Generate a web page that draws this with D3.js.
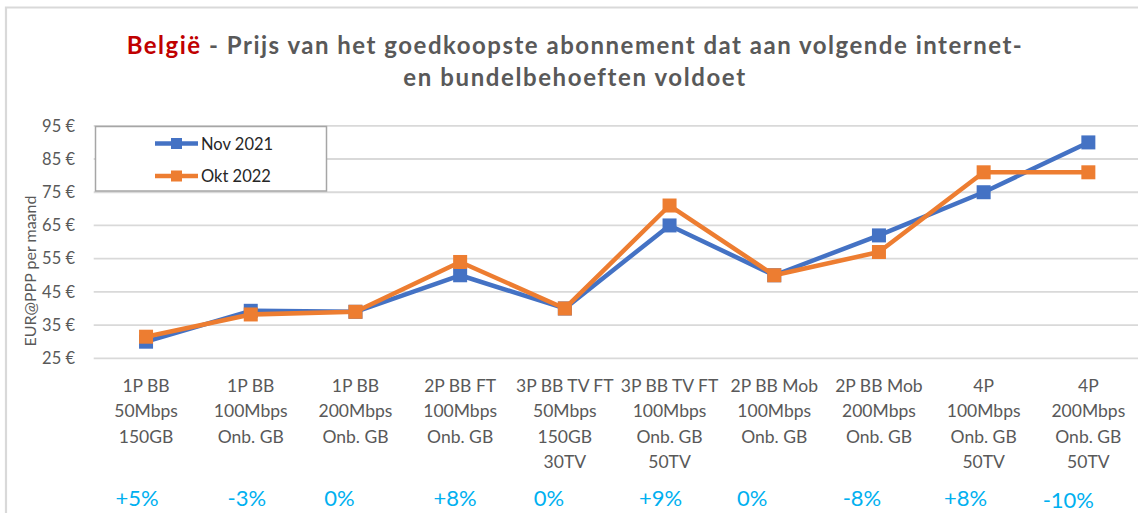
<!DOCTYPE html>
<html>
<head>
<meta charset="utf-8">
<script src="https://cdn.jsdelivr.net/npm/d3@7"></script>
<style>
  html, body { margin: 0; padding: 0; background: #fff; }
  svg { display: block; }
</style>
</head>
<body>
<svg id="chart" width="1138" height="513"></svg>
<script>
// ---------- DATA ----------
const categories = [
  ["1P BB", "50Mbps", "150GB"],
  ["1P BB", "100Mbps", "Onb. GB"],
  ["1P BB", "200Mbps", "Onb. GB"],
  ["2P BB FT", "100Mbps", "Onb. GB"],
  ["3P BB TV FT", "50Mbps", "150GB", "30TV"],
  ["3P BB TV FT", "100Mbps", "Onb. GB", "50TV"],
  ["2P BB Mob", "100Mbps", "Onb. GB"],
  ["2P BB Mob", "200Mbps", "Onb. GB"],
  ["4P", "100Mbps", "Onb. GB", "50TV"],
  ["4P", "200Mbps", "Onb. GB", "50TV"]
];
const seriesNames = ["Nov 2021", "Okt 2022"];
const nov2021 = [30, 39.3, 39, 50, 40, 65, 50, 62, 75, 90];
const okt2022 = [31.5, 38.2, 39, 54, 40, 71, 50, 57, 81, 81];
const changeLabels = ["+5%", "-3%", "0%", "+8%", "0%", "+9%", "0%", "-8%", "+8%", "-10%"];
const yTicks = [25, 35, 45, 55, 65, 75, 85, 95];
const titleRed = "België";
const titleRest1 = " - Prijs van het goedkoopste abonnement dat aan volgende internet-";
const titleLine2 = "en bundelbehoeften voldoet";
const yAxisTitle = "EUR@PPP per maand";

// ---------- LAYOUT ----------
const colors = ["#4472c4", "#ed7d31"];
const textGray = "#595959";
const pctNudge = [-9, -4, -16, -5, -16, -9, -22, -17, -18, -20];
const font = "Lato, 'Open Sans', sans-serif";

const svg = d3.select("#chart");

// outer border
svg.append("path")
  .attr("d", "M6,515 L6,7.5 L1140,7.5")
  .attr("fill", "none").attr("stroke", "#d9d9d9").attr("stroke-width", 2.2);

const x = d3.scaleBand()
  .domain(d3.range(categories.length))
  .range([93.7, 1140.7]);
const y = d3.scaleLinear().domain([25, 95]).range([358.3, 125.8]);
const cx = i => x(i) + x.bandwidth() / 2;

// gridlines
svg.append("g")
  .selectAll("line").data(yTicks).join("line")
  .attr("x1", 93.7).attr("x2", 1140.7)
  .attr("y1", d => y(d)).attr("y2", d => y(d))
  .attr("stroke", "#d9d9d9").attr("stroke-width", 1.8);

// y axis labels using d3 axis
const yAxis = svg.append("g")
  .attr("transform", "translate(84,0)")
  .call(d3.axisLeft(y).tickValues(yTicks).tickSize(0).tickPadding(9).tickFormat(d => d + " €"));
yAxis.select(".domain").remove();
yAxis.selectAll("text")
  .attr("font-family", font).attr("font-size", 16.5).attr("fill", textGray);

// y axis title
svg.append("text")
  .attr("transform", "translate(36,271) rotate(-90)")
  .attr("text-anchor", "middle")
  .attr("font-family", font).attr("font-size", 16).attr("fill", textGray)
  .text(yAxisTitle);

// lines and markers
const seriesData = [nov2021, okt2022];
const line = d3.line().x((d, i) => cx(i)).y(d => y(d));
seriesData.forEach((vals, s) => {
  svg.append("path")
    .datum(vals)
    .attr("d", line)
    .attr("fill", "none")
    .attr("stroke", colors[s])
    .attr("stroke-width", 4.5)
    .attr("stroke-linejoin", "round");
  svg.append("g").selectAll("rect").data(vals).join("rect")
    .attr("x", (d, i) => cx(i) - 7)
    .attr("y", d => y(d) - 7)
    .attr("width", 14).attr("height", 14)
    .attr("fill", colors[s]);
});

// legend
svg.append("rect")
  .attr("x", 95.5).attr("y", 126.5).attr("width", 231).attr("height", 64.5)
  .attr("fill", "#fff").attr("stroke", "#a6a6a6").attr("stroke-width", 1.5);
seriesNames.forEach((name, s) => {
  const ly = 143.5 + s * 32.5;
  svg.append("line")
    .attr("x1", 155).attr("x2", 198).attr("y1", ly).attr("y2", ly)
    .attr("stroke", colors[s]).attr("stroke-width", 4.5);
  svg.append("rect")
    .attr("x", 171).attr("y", ly - 5.5).attr("width", 11).attr("height", 11)
    .attr("fill", colors[s]);
  svg.append("text")
    .attr("x", 201).attr("y", ly + 6)
    .attr("font-family", font).attr("font-size", 16.5).attr("fill", "#262626")
    .text(name);
});

// x category labels
const xl = svg.append("g");
categories.forEach((lines, i) => {
  const t = xl.append("text")
    .attr("text-anchor", "middle")
    .attr("font-family", font).attr("font-size", 17.5).attr("fill", textGray);
  lines.forEach((ln, k) => {
    t.append("tspan").attr("x", cx(i)).attr("y", 391.5 + k * 25.5).text(ln);
  });
});

// percentage change labels
svg.append("g").selectAll("text").data(changeLabels).join("text")
  .attr("x", (d, i) => cx(i) + pctNudge[i])
  .attr("y", (d, i) => 505.5 + (i === 9 ? 2.5 : 0))
  .attr("text-anchor", "middle")
  .attr("font-family", font).attr("font-size", 22).attr("fill", "#00b0f0")
  .text(d => d);

// title
const title = svg.append("text")
  .attr("x", 575).attr("y", 53.5)
  .attr("text-anchor", "middle")
  .attr("font-family", font).attr("font-size", 24).attr("font-weight", "bold")
  .attr("letter-spacing", 1.5).attr("fill", textGray);
title.append("tspan").attr("fill", "#c00000").text(titleRed);
title.append("tspan").text(titleRest1);
svg.append("text")
  .attr("x", 575).attr("y", 85.5)
  .attr("text-anchor", "middle")
  .attr("font-family", font).attr("font-size", 24).attr("font-weight", "bold")
  .attr("letter-spacing", 1.6).attr("fill", textGray)
  .text(titleLine2);
</script>
</body>
</html>
